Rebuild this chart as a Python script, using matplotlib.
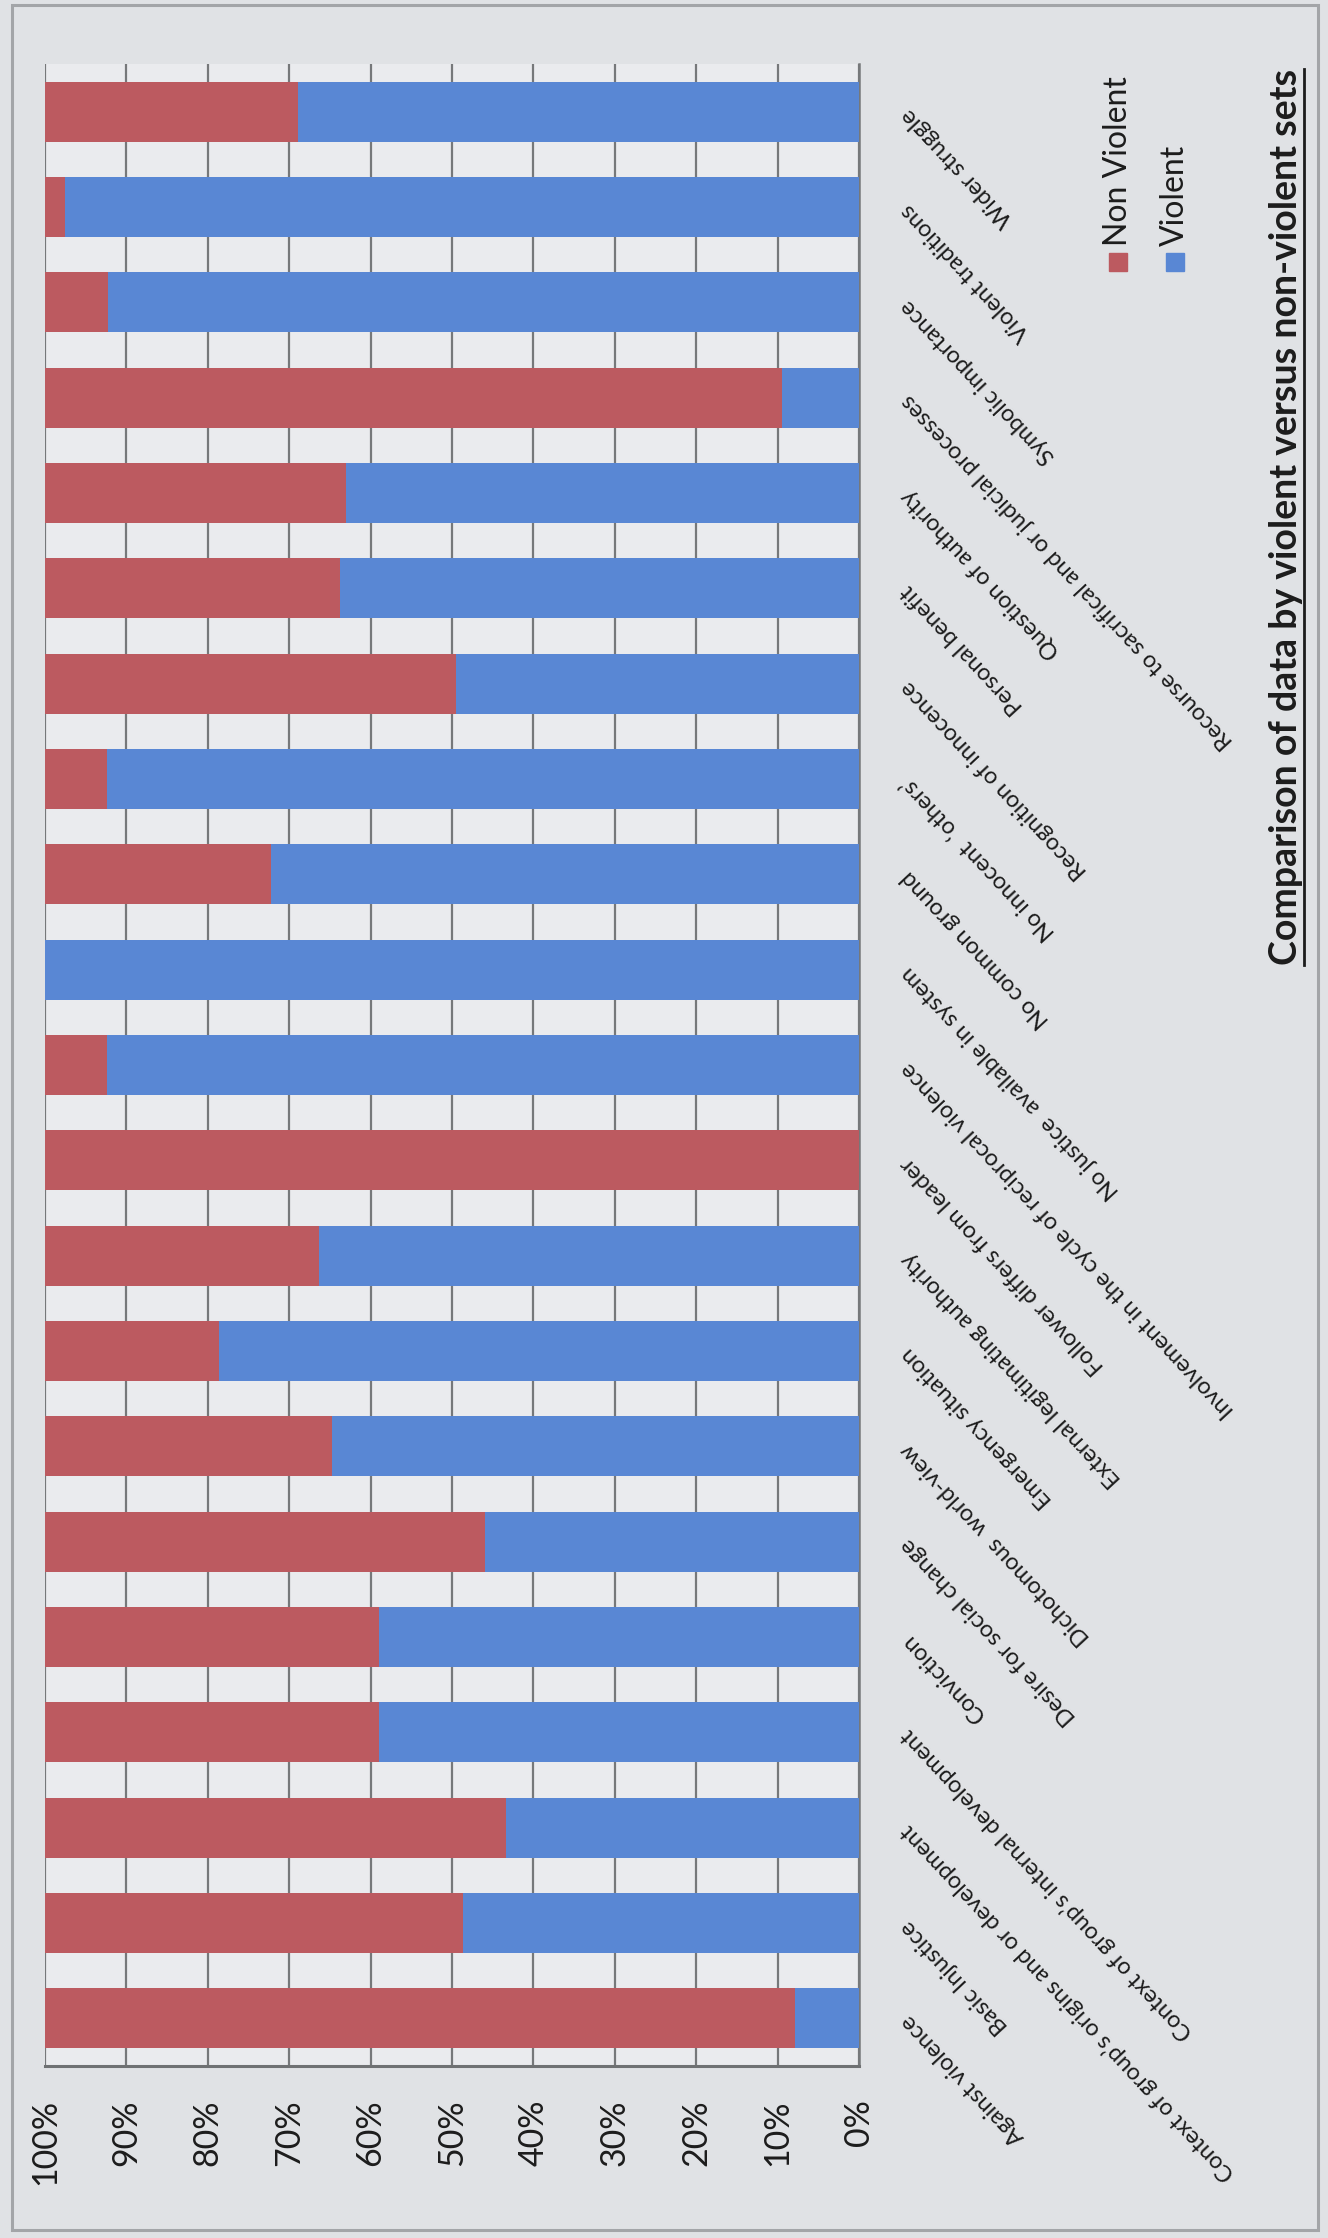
import numpy as np
import matplotlib
matplotlib.use("Agg")
import matplotlib.pyplot as plt
from matplotlib.lines import Line2D
from matplotlib.patches import Rectangle

# Categories listed from the bottom bar to the top bar
categories = [
    "Against violence",
    "Basic Injustice",
    "Context of group\u2019s origins and or development",
    "Context of group\u2019s internal development",
    "Conviction",
    "Desire for social change",
    "Dichotomous  world-view",
    "Emergency situation",
    "External legitimating authority",
    "Follower differs from leader",
    "Involvement in the cycle of reciprocal violence",
    "No justice  available in system",
    "No common ground",
    "No innocent  \u2018others\u2019",
    "Recognition of innocence",
    "Personal benefit",
    "Question of authority",
    "Recourse to sacrifical and or judicial processes",
    "Symbolic importance",
    "Violent traditions",
    "Wider struggle",
]

# Share of each set (percent)
non_violent = [92.1, 51.3, 56.6, 41.0, 41.0, 54.1, 35.2, 21.4, 33.6, 100.0, 7.6,
               0.0, 27.8, 7.6, 50.5, 36.2, 37.0, 90.6, 7.8, 2.5, 31.1]
violent = [7.9, 48.7, 43.4, 59.0, 59.0, 45.9, 64.8, 78.6, 66.4, 0.0, 92.4,
           100.0, 72.2, 92.4, 49.5, 63.8, 63.0, 9.4, 92.2, 97.5, 68.9]

series_names = ["Non Violent", "Violent"]
tick_values = [0, 10, 20, 30, 40, 50, 60, 70, 80, 90, 100]
tick_labels = ["0%", "10%", "20%", "30%", "40%", "50%", "60%", "70%", "80%", "90%", "100%"]
title = "Comparison of data by violent versus non-violent sets"

RED = "#bc5a60"
BLUE = "#5987d4"
GRID = "#76787a"
TEXT = "#1c1c1c"
PAGE = "#e0e2e5"
PLOT_BG = "#eaebee"
FONT = "Lato"

W, H = 1328, 2238
fig = plt.figure(figsize=(W / 100, H / 100), dpi=100, facecolor=PAGE)


def frac_rect(x0, y0, x1, y1):
    """Pixel box (top-left origin) -> figure-fraction rectangle."""
    return [x0 / W, 1 - y1 / H, (x1 - x0) / W, (y1 - y0) / H]


# Outer chart border
bx = frac_rect(12, 5, 1318, 2230)
fig.patches.append(Rectangle((bx[0], bx[1]), bx[2], bx[3], transform=fig.transFigure,
                             fill=False, ec="#a3a5a8", lw=2.2, zorder=0))

ax = fig.add_axes(frac_rect(45, 64, 859, 2066))
ax.set_facecolor(PLOT_BG)

pos = np.arange(len(categories))
ax.barh(pos, violent, height=0.63, color=BLUE, zorder=3, label=series_names[1])
ax.barh(pos, non_violent, left=violent, height=0.63, color=RED, zorder=3,
        label=series_names[0])

ax.set_xlim(100, 0)
ax.set_ylim(-0.5, len(categories) - 0.5)

ax.set_xticks(tick_values)
ax.set_xticklabels(tick_labels, rotation=90, fontsize=24.5, family=FONT, color=TEXT)
ax.tick_params(axis="x", length=0, pad=24)
ax.grid(axis="x", color=GRID, lw=1.6, zorder=1)
ax.set_axisbelow(True)

ax.yaxis.tick_right()
ax.set_yticks(pos)
ax.set_yticklabels(categories, fontsize=16.8, family=FONT, color=TEXT)
ax.tick_params(axis="y", length=0, pad=33)
for lab in ax.get_yticklabels():
    lab.set_rotation(133)
    lab.set_rotation_mode("anchor")
    lab.set_ha("right")
    lab.set_va("center")

for side in ("top", "left"):
    ax.spines[side].set_visible(False)
ax.spines["right"].set_color(GRID)
ax.spines["right"].set_linewidth(1.8)
ax.spines["bottom"].set_color("#6f7173")
ax.spines["bottom"].set_linewidth(2.2)

# Legend, drawn rotated alongside the chart
legend_items = [(series_names[0], RED, 1118), (series_names[1], BLUE, 1175)]
for name, col, xc in legend_items:
    r = frac_rect(xc - 9, 253, xc + 9, 271)
    fig.patches.append(Rectangle((r[0], r[1]), r[2], r[3], transform=fig.transFigure,
                                 color=col, zorder=5))
    fig.text(xc / W, 1 - 246 / H, name, rotation=90, ha="center", va="bottom",
             fontsize=23, family=FONT, color=TEXT)

# Title with underline
t = fig.text(1286 / W, 1 - 517 / H, title, rotation=90, ha="center", va="center",
             fontsize=27, family=FONT, weight="bold", color=TEXT)
fig.canvas.draw()
bb = t.get_window_extent(renderer=fig.canvas.get_renderer())
ux = (bb.x1 + 1) / W
fig.add_artist(Line2D([ux, ux], [bb.y0 / H, bb.y1 / H], transform=fig.transFigure,
                      color=TEXT, lw=2.0))

fig.savefig("out.png", dpi=100, facecolor=PAGE)
